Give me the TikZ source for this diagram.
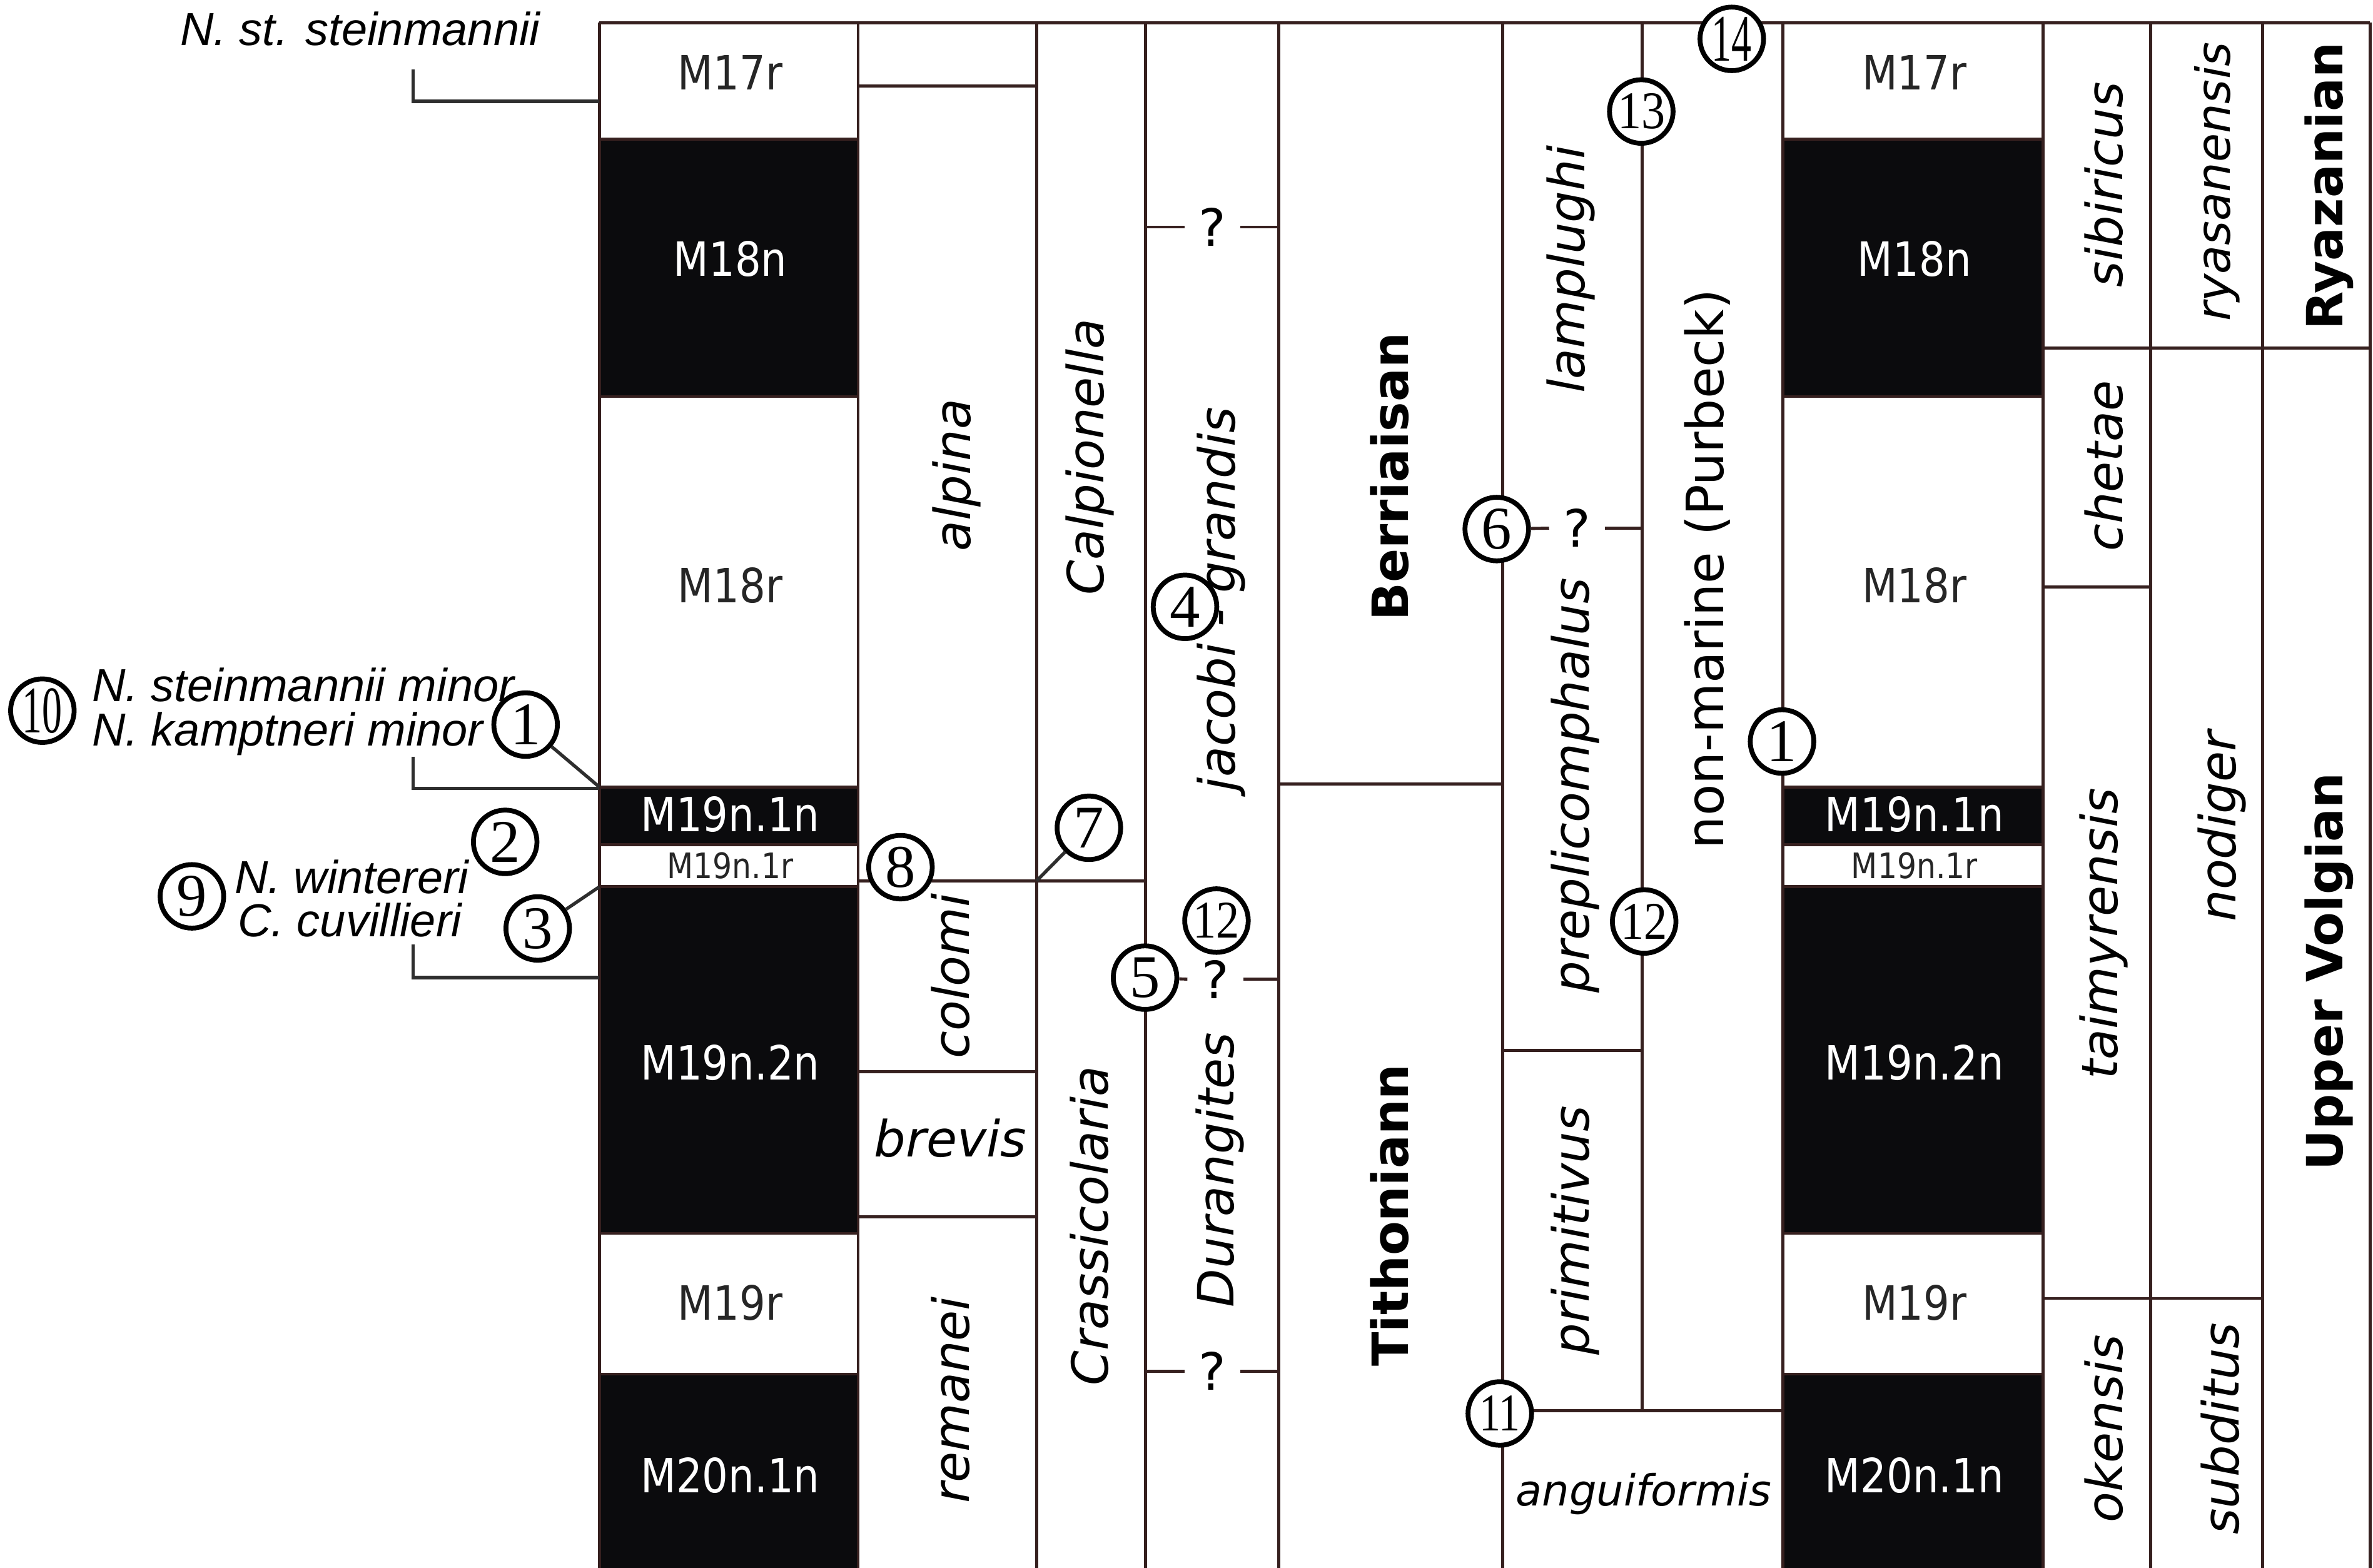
\documentclass[tikz,border=0pt]{standalone}
\usepackage{fontspec}
\setmainfont{DejaVu Sans}
\newfontfamily\chronfont[FakeStretch=0.87]{DejaVu Sans}
\newfontfamily\fossilfont{Liberation Sans}
\newfontfamily\numfont{Liberation Serif}
\usepackage{xcolor}
\usetikzlibrary{positioning,calc}

\definecolor{gridbrown}{HTML}{36201F}
\definecolor{chronblack}{HTML}{0B0B0D}
\definecolor{leadgray}{HTML}{2E2E2E}
\definecolor{chrongray}{HTML}{262626}

\tikzset{
  zoneline/.style={draw=gridbrown, line width=1pt},
  leadline/.style={draw=leadgray, line width=1.1pt},
  chronlabel/.style={font=\chronfont\fontsize{15.6}{16}\selectfont, inner sep=0pt},
  taxon/.style={font=\itshape\fontsize{16.5}{18}\selectfont, rotate=90, inner sep=0pt},
  flattaxon/.style={font=\itshape\fontsize{16.5}{18}\selectfont, inner sep=0pt},
  stage/.style={font=\bfseries\fontsize{16.5}{18}\selectfont, rotate=90, inner sep=0pt},
  fossil/.style={font=\fossilfont\itshape\fontsize{15.3}{17}\selectfont, inner sep=0pt, anchor=base west},
  query/.style={font=\fontsize{17}{17}\selectfont, inner xsep=4.5pt, inner ysep=0pt},
  marker/.style={circle, draw=black, line width=1.6pt, fill=white, minimum size=21pt,
    inner sep=0pt, font=\numfont\fontsize{20}{20}\selectfont},
  twodigit/.style={font=\numfont\fontsize{17.5}{17.5}\selectfont},
}

\begin{document}
\begin{tikzpicture}[x=0.5pt, y=-0.5pt]
    \useasboundingbox (0,0) rectangle (1568,1036);

    % two polarity columns
    \foreach \xl/\xr/\tag in {396/567/A, 1178/1350/B}{
        \foreach \ya/\yb in {92/262, 520/558, 586/815, 908/1036}
            \fill[chronblack] (\xl,\ya) rectangle (\xr,\yb);
        \foreach \y in {92,262,520,558,586,815,908}
            \draw[zoneline] (\xl,\y) -- (\xr,\y);
        \foreach \lab/\y/\tc [count=\i] in {M17r/48/chrongray, M18n/171/white,
                M18r/387/chrongray, M19n.1n/538/white, M19n.2n/702/white,
                M19r/861/chrongray, M20n.1n/975/white}
            \node[chronlabel, text=\tc] (chron\tag\i) at ({(\xl+\xr)/2+1},\y) {\lab};
        \node[chronlabel, font=\chronfont\fontsize{11.6}{12}\selectfont, text=chrongray]
            (chron\tag r) at ({(\xl+\xr)/2+1},572) {M19n.1r};
    }

    % frame
    \draw[zoneline] (396,15) -- (1566,15);
    \foreach \x in {396,567,685,757,845,993,1178,1350,1421,1495,1566}
        \draw[zoneline] (\x,15) -- (\x,1036);
    \draw[zoneline] (1085,15) -- (1085,932);

    % zone boundaries
    \draw[zoneline] (567,57) -- (685,57);
    \draw[zoneline] (567,582) -- (757,582);
    \draw[zoneline] (567,708) -- (685,708);
    \draw[zoneline] (567,804) -- (685,804);
    \draw[zoneline] (845,518) -- (993,518);
    \draw[zoneline] (993,694) -- (1085,694);
    \draw[zoneline] (993,932) -- (1178,932);
    \draw[zoneline] (1350,230) -- (1566,230);
    \draw[zoneline] (1350,388) -- (1421,388);
    \draw[zoneline] (1350,858) -- (1495,858);

    % uncertain boundaries
    \node[query] (qA) at (801,150) {?};
    \node[query] (qB) at (803,647) {?};
    \node[query] (qC) at (801,906) {?};
    \node[query] (qD) at (1042,349) {?};
    \draw[zoneline] (757,150) -- (qA.west) (qA.east) -- (845,150);
    \draw[zoneline] (qB.east) -- (845,647);
    \draw[zoneline] (757,906) -- (qC.west) (qC.east) -- (845,906);
    \draw[zoneline] (qD.east) -- (1085,349);

    % zone names
    \node[taxon] (alpina) at (632,314) {alpina};
    \node[taxon] (colomi) at (628,645) {colomi};
    \node[flattaxon] (brevis) at (628,752) {brevis};
    \node[taxon] (remanei) at (628,925) {remanei};
    \node[taxon] (calpi) at (720,302) {Calpionella};
    \node[taxon] (crassi) at (720,810) {Crassicolaria};
    \node[taxon] (jacobi) at (807,396) {jacobi - grandis};
    \node[taxon] (durang) at (806,773) {Durangites};
    \node[stage] (berr) at (918,315) {Berriaisan};
    \node[stage] (tith) at (918,803) {Tithoniann};
    \node[taxon] (lampl) at (1038,178) {lamplughi};
    \node[taxon] (prepl) at (1041,519) {preplicomphalus};
    \node[taxon] (primi) at (1041,813) {primitivus};
    \node[flattaxon, font=\itshape\fontsize{14.2}{16}\selectfont] (angui) at (1086,987) {anguiformis};
    \node[taxon, font=\fontsize{17}{18}\selectfont] (purbeck) at (1128,376) {non-marine (Purbeck)};
    \node[taxon] (sibir) at (1390,122) {sibiricus};
    \node[taxon] (chetae) at (1390,308) {chetae};
    \node[taxon] (taimyr) at (1390,617) {taimyrensis};
    \node[taxon] (okens) at (1390,944) {okensis};
    \node[taxon, font=\itshape\fontsize{15.5}{16}\selectfont] (ryasan) at (1465,120) {ryasanensis};
    \node[taxon] (nodig) at (1468,546) {nodiger};
    \node[taxon] (subdit) at (1467,944) {subditus};
    \node[stage] (ryaz) at (1539,123) {Ryazanian};
    \node[stage] (volg) at (1539,642) {Upper Volgian};

    % nannofossil events, left side
    \node[fossil] (stst) at (118.8,29.9) {N. st. steinmannii};
    \node[fossil] (stmin) at (60.5,463.5) {N. steinmannii minor};
    \node[fossil] (kamin) at (60.5,493) {N. kamptneri minor};
    \node[fossil] (wint) at (154.6,590.4) {N. wintereri};
    \node[fossil] (cuvil) at (156.8,619) {C. cuvillieri};
    \draw[leadline] (273,46) -- (273,67) -- (396,67);
    \draw[leadline] (273,500) -- (273,521) -- (396,521);
    \draw[leadline] (273,624) -- (273,646) -- (396,646);

    % numbered markers
    \node[marker, font=\numfont\fontsize{22}{22}\selectfont] (m10) at (28,469.6) {\scalebox{0.6}[1]{10}};
    \node[marker] (m1a) at (347.3,478.8) {1};
    \node[marker] (m2) at (333.8,556.3) {2};
    \node[marker] (m9) at (126.8,592.3) {9};
    \node[marker] (m3) at (355.3,613.5) {3};
    \node[marker] (m8) at (595,573) {8};
    \node[marker] (m7) at (719.5,547) {7};
    \node[marker] (m4) at (783,401) {4};
    \node[marker, twodigit] (m12a) at (803.8,608.3) {\scalebox{0.88}[1]{12}};
    \node[marker] (m5) at (756.6,646) {5};
    \node[marker] (m6) at (989,349.6) {6};
    \node[marker, twodigit] (m13) at (1084.5,73.7) {\scalebox{0.9}[1]{13}};
    \node[marker, font=\numfont\fontsize{22}{22}\selectfont] (m14) at (1144.3,25.7) {\scalebox{0.6}[1]{14}};
    \node[marker, twodigit] (m12b) at (1086.4,608.9) {\scalebox{0.88}[1]{12}};
    \node[marker] (m1b) at (1177.5,490) {1};
    \node[marker, twodigit] (m11) at (991,934) {\scalebox{0.8}[1]{11}};

    % leaders from markers
    \coordinate (baseA) at (396,520);
    \coordinate (topB) at (396,586);
    \coordinate (crassTop) at (685,582);
    \draw[leadline] (m1a) -- (baseA);
    \draw[leadline] (m3) -- (topB);
    \draw[leadline] (m7) -- (crassTop);
    \draw[zoneline] (m5) -- (qB.west);
    \draw[zoneline] (m6) -- (qD.west);
\end{tikzpicture}
\end{document}
